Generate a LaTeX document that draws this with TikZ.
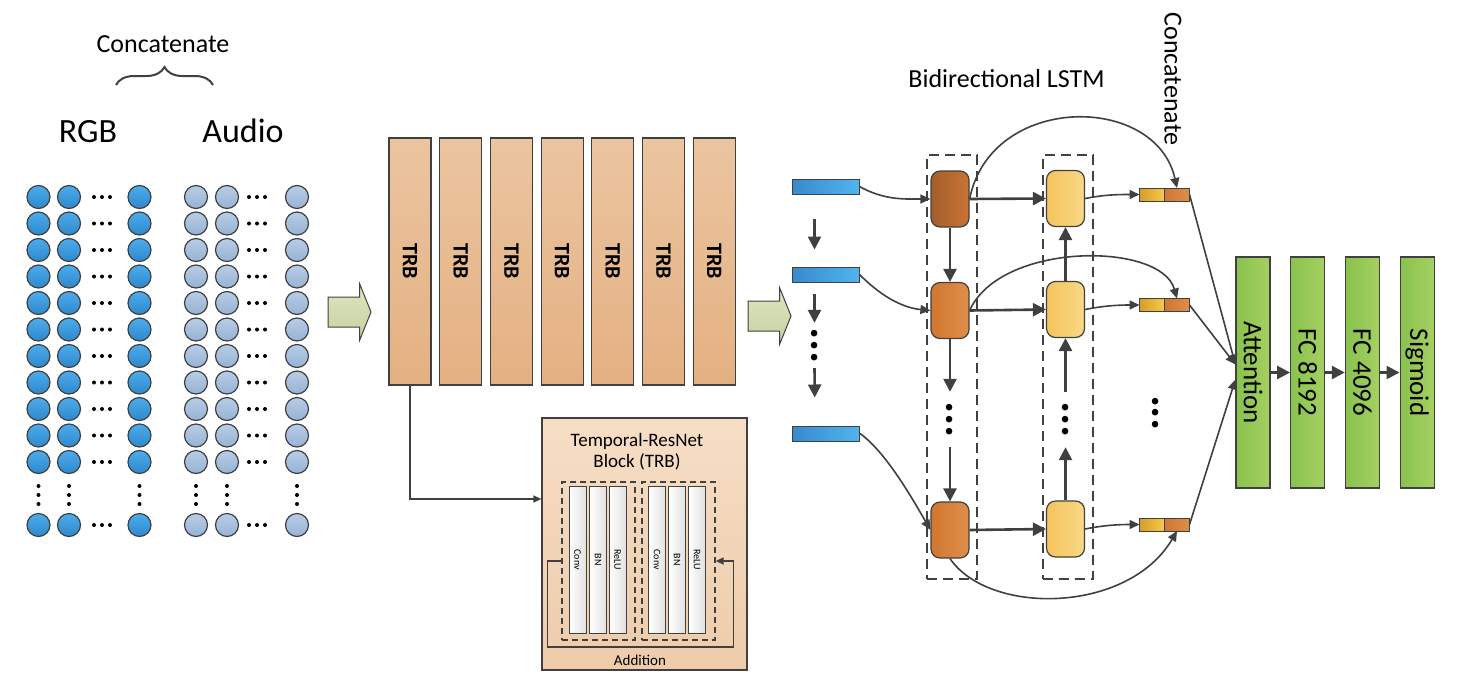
\documentclass[tikz,border=0pt]{standalone}
\usepackage{fontspec}
\setmainfont{Carlito}
\usetikzlibrary{positioning}
\usetikzlibrary{decorations.pathreplacing}
\usetikzlibrary{arrows.meta}
\usetikzlibrary{shapes.arrows}
\definecolor{linegray}{RGB}{64,64,64}
\definecolor{rgbtop}{RGB}{76,172,236}
\definecolor{rgbbot}{RGB}{46,136,204}
\definecolor{audtop}{RGB}{184,205,230}
\definecolor{audbot}{RGB}{150,178,212}
\definecolor{trbtop}{RGB}{235,197,160}
\definecolor{trbbot}{RGB}{228,176,130}
\definecolor{insettop}{RGB}{246,222,198}
\definecolor{insetbot}{RGB}{238,204,170}
\definecolor{bigarrtop}{RGB}{222,229,192}
\definecolor{bigarrbot}{RGB}{198,210,160}
\definecolor{inleft}{RGB}{56,138,204}
\definecolor{inright}{RGB}{80,180,238}
\definecolor{fwdarkl}{RGB}{164,94,42}
\definecolor{fwdarkr}{RGB}{202,116,52}
\definecolor{fwleft}{RGB}{208,118,48}
\definecolor{fwright}{RGB}{223,143,74}
\definecolor{bwleft}{RGB}{244,196,92}
\definecolor{bwright}{RGB}{249,216,134}
\definecolor{catyl}{RGB}{214,158,40}
\definecolor{catyr}{RGB}{246,202,72}
\definecolor{greenl}{RGB}{138,194,78}
\definecolor{greenr}{RGB}{164,208,98}
\newcommand{\fsz}[2]{\fontsize{#1}{#2}\selectfont}
\tikzstyle{every unit} = [circle, draw=linegray, line width=1.2pt, inner sep=0pt, minimum size=23pt]
\tikzstyle{rgb unit} = [every unit, top color=rgbtop, bottom color=rgbbot]
\tikzstyle{audio unit} = [every unit, top color=audtop, bottom color=audbot]
\tikzstyle{big dots} = [inner sep=0pt, rotate=90, font=\bfseries\fsz{44}{44}]
\tikzstyle{heading} = [inner sep=0pt, anchor=base, font=\fsz{26}{30}]
\tikzstyle{big heading} = [inner sep=0pt, anchor=base, font=\fsz{34}{38}]
\tikzstyle{concat brace} = [draw=linegray, line width=2pt, decorate, decoration={brace, amplitude=18pt}]
\tikzstyle{block arrow} = [single arrow, draw=linegray, line width=1pt, inner sep=0pt, minimum height=43pt, single arrow head extend=13pt, single arrow tip angle=136, top color=bigarrtop, bottom color=bigarrbot]
\tikzstyle{trb} = [draw=linegray, line width=1.2pt, inner sep=0pt, minimum width=42pt, minimum height=247pt, top color=trbtop, bottom color=trbbot, font=\bfseries\fsz{22}{22}]
\tikzstyle{inset} = [draw=linegray, line width=1.2pt, inner sep=0pt, minimum width=205pt, minimum height=252pt, top color=insettop, bottom color=insetbot]
\tikzstyle{layer group} = [draw=linegray, line width=1.3pt, dash pattern=on 6pt off 4pt, inner sep=0pt, minimum width=73pt, minimum height=158pt]
\tikzstyle{layer} = [draw=linegray, line width=1pt, inner sep=0pt, minimum width=17pt, minimum height=147pt, left color=white, right color=black!12, font=\fsz{10}{10}]
\tikzstyle{feature} = [draw=linegray, line width=1pt, inner sep=0pt, minimum width=67pt, minimum height=15pt, left color=inleft, right color=inright]
\tikzstyle{lstm box} = [draw=linegray, line width=2pt, dash pattern=on 10pt off 6pt, inner sep=0pt, minimum width=50pt, minimum height=424pt]
\tikzstyle{every cell} = [draw=linegray, line width=1.2pt, inner sep=0pt, rounded corners=9pt, minimum width=38pt, minimum height=56pt]
\tikzstyle{fw first} = [every cell, left color=fwdarkl, right color=fwdarkr]
\tikzstyle{fw cell} = [every cell, left color=fwleft, right color=fwright]
\tikzstyle{bw cell} = [every cell, left color=bwleft, right color=bwright]
\tikzstyle{cat half} = [draw=linegray, line width=1pt, inner sep=0pt, outer sep=0pt, minimum width=25pt, minimum height=13pt]
\tikzstyle{head} = [cat half, left color=catyl, right color=catyr]
\tikzstyle{tail} = [cat half, left color=fwleft, right color=fwright]
\tikzstyle{dense} = [draw=linegray, line width=1.2pt, inner sep=0pt, minimum width=34pt, minimum height=231pt, left color=greenl, right color=greenr, font=\fsz{27}{27}]
\tikzstyle{link} = [draw=linegray, line width=1.6pt, -{Triangle[length=10pt, width=9pt]}]
\tikzstyle{thin link} = [draw=linegray, line width=1.3pt, -{Triangle[length=8pt, width=7pt]}]
\tikzstyle{thick link} = [draw=linegray, line width=2.6pt, -{Triangle[length=13pt, width=13pt]}]

\begin{document}
\begin{tikzpicture}[x=1pt, y=-1pt, node distance=7.5pt]
\useasboundingbox (0,0) rectangle (1462,694);

% input features
\node[heading] (concat-in) at (163,52) {Concatenate};
\draw[concat brace] (116,85) -- (213,85);
\node[big heading] (rgb) at (88,142) {RGB};
\node[big heading] (audio) at (243,142) {Audio};

\foreach \r in {0,...,10} {
  \foreach \c/\x in {1/38.5,2/69,3/139.5}
    \node[rgb unit] (rgb-\r-\c) at (\x,{197+26.5*\r}) {};
  \foreach \c/\x in {1/196,2/227,3/297}
    \node[audio unit] (aud-\r-\c) at (\x,{197+26.5*\r}) {};
  \foreach \x in {94,102,110,249,257,265}
    \fill[black] (\x,{197+26.5*\r}) circle (2pt);
}
\foreach \c/\x in {1/38.5,2/69,3/139.5}
  \node[rgb unit] (rgb-n-\c) at (\x,525) {};
\foreach \c/\x in {1/196,2/227,3/297}
  \node[audio unit] (aud-n-\c) at (\x,525) {};
\foreach \x in {94,102,110,249,257,265}
  \fill[black] (\x,525) circle (2pt);
\foreach \x in {38.5,69,139.5,196,227,297}
  \foreach \y in {486,495,504}
    \fill[black] (\x,\y) circle (2pt);

\node[block arrow] (go-a) at (346.5,312) {\rule{0pt}{29pt}};

% temporal resnet
\node[trb] (trb1) at (410,261.5) {\rotatebox{-90}{TRB}};
\foreach \i [remember=\i as \j (initially 1)] in {2,...,7}
  \node[trb, right=of trb\j] (trb\i) {\rotatebox{-90}{TRB}};

\node[inset] (trb-detail) at (644.5,544) {};
\node[align=center, inner sep=0pt, font=\fsz{19}{21}] (trb-title) at (637,452) {Temporal-ResNet\\Block (TRB)};
\node[layer group] (grp-a) at (598.5,561) {};
\node[layer group] (grp-b) at (678.5,561) {};
\node[layer] (conv-a) at (577.5,559.5) {\rotatebox{-90}{Conv}};
\node[layer] (bn-a) at (598,559.5) {\rotatebox{-90}{BN}};
\node[layer] (relu-a) at (617.5,559.5) {\rotatebox{-90}{ReLU}};
\node[layer] (conv-b) at (657,559.5) {\rotatebox{-90}{Conv}};
\node[layer] (bn-b) at (677,559.5) {\rotatebox{-90}{BN}};
\node[layer] (relu-b) at (697,559.5) {\rotatebox{-90}{ReLU}};
\node[inner sep=0pt, font=\fsz{15}{15}] (addition) at (640,660) {Addition};

\draw[thin link] (trb1.south) |- ([yshift=45pt]trb-detail.west);
\draw[thin link] (grp-a.west) -- ++(-14,0) -- ++(0,86) -| ([xshift=18pt]grp-b.east) -- (grp-b.east);

\node[block arrow] (go-b) at (766.5,316) {\rule{0pt}{29pt}};

% bidirectional lstm
\node[heading] (bilstm) at (1006.5,87) {Bidirectional LSTM};
\node[inner sep=0pt, rotate=-90, font=\fsz{26}{30}] (concat-out) at (1173,79) {Concatenate};

\node[lstm box] (fw-box) at (952,367) {};
\node[lstm box] (bw-box) at (1067.5,367) {};

\node[feature] (in1) at (825.5,186.5) {};
\node[feature] (in2) at (825.5,274.5) {};
\node[feature] (in3) at (826,433.5) {};
\node[big dots, minimum width=45pt] (in-dots) at (814.5,345.5) {...};

\node[fw first] (fw1) at (950,199) {};
\node[fw cell] (fw2) at (950,310.5) {};
\node[fw cell] (fw3) at (950,530) {};
\node[big dots, minimum width=55pt] (fw-dots) at (950,419.5) {...};
\node[bw cell] (bw1) at (1065.5,198.5) {};
\node[bw cell] (bw2) at (1065.5,309.5) {};
\node[bw cell] (bw3) at (1065.5,529) {};
\node[big dots, minimum width=55pt] (bw-dots) at (1065.5,419.5) {...};

\node[head] (cat1a) at (1152,194.5) {};
\node[tail, right=0pt of cat1a] (cat1b) {};
\node[head] (cat2a) at (1152,305) {};
\node[tail, right=0pt of cat2a] (cat2b) {};
\node[head] (cat3a) at (1152,524.5) {};
\node[tail, right=0pt of cat3a] (cat3b) {};
\node[big dots] (out-dots) at (1156,413) {...};

\draw[thick link, shorten <=24pt, shorten >=17pt] ([xshift=-11pt]in1.south) -- ([xshift=-11pt]in2.north);
\draw[thick link, shorten <=11pt] ([xshift=-11pt]in2.south) -- (in-dots.east);
\draw[thick link, shorten >=28pt] (in-dots.west) -- ([xshift=-11pt]in3.north);

\draw[link] (in1.east) .. controls +(25,14) and +(-25,0) .. (fw1.west);
\draw[link] (in2.east) .. controls +(20,20) and +(-30,-3) .. (fw2.west);
\draw[link] (in3.east) .. controls +(25,18) and +(-20,-35) .. (fw3.west);

\draw[thick link] (fw1.south) -- (fw2.north);
\draw[thick link] (fw2.south) -- (fw-dots.east);
\draw[thick link] (fw-dots.west) -- (fw3.north);
\draw[thick link] (bw3.north) -- (bw-dots.west);
\draw[thick link] (bw-dots.east) -- (bw2.south);
\draw[thick link] (bw2.north) -- (bw1.south);

\draw[thick link] (fw1.east) -- (bw1.west);
\draw[thick link] (fw2.east) -- (bw2.west);
\draw[thick link] (fw3.east) -- (bw3.west);

\draw[link] (bw1.east) .. controls +(20,-4) and +(-20,0) .. (cat1a.west);
\draw[link] (bw2.east) .. controls +(20,-4) and +(-20,0) .. (cat2a.west);
\draw[link] (bw3.east) .. controls +(20,-4) and +(-20,0) .. (cat3a.west);

\draw[link] (fw1.east) .. controls +(21,-106) and +(-21,-95) .. (cat1b.north);
\draw[link] (fw2.east) .. controls +(31,-69) and +(-16,-57) .. (cat2b.north);
\draw[link] (fw3.south) .. controls +(39,57) and +(-49,83) .. (cat3b.south);

% classifier
\node[dense] (att) at (1253,372.5) {\rotatebox{-90}{Attention}};
\node[dense, right=19.5pt of att] (fc1) {\rotatebox{-90}{FC 8192}};
\node[dense, right=19.5pt of fc1] (fc2) {\rotatebox{-90}{FC 4096}};
\node[dense, right=19.5pt of fc2] (sig) {\rotatebox{-90}{Sigmoid}};

\draw[link] (cat1b.east) -- ([yshift=8pt]att.west);
\draw[link] (cat2b.east) -- ([yshift=8pt]att.west);
\draw[link] (cat3b.east) -- ([yshift=-7pt]att.west);
\draw[thick link] (att) -- (fc1);
\draw[thick link] (fc1) -- (fc2);
\draw[thick link] (fc2) -- (sig);
\end{tikzpicture}
\end{document}
